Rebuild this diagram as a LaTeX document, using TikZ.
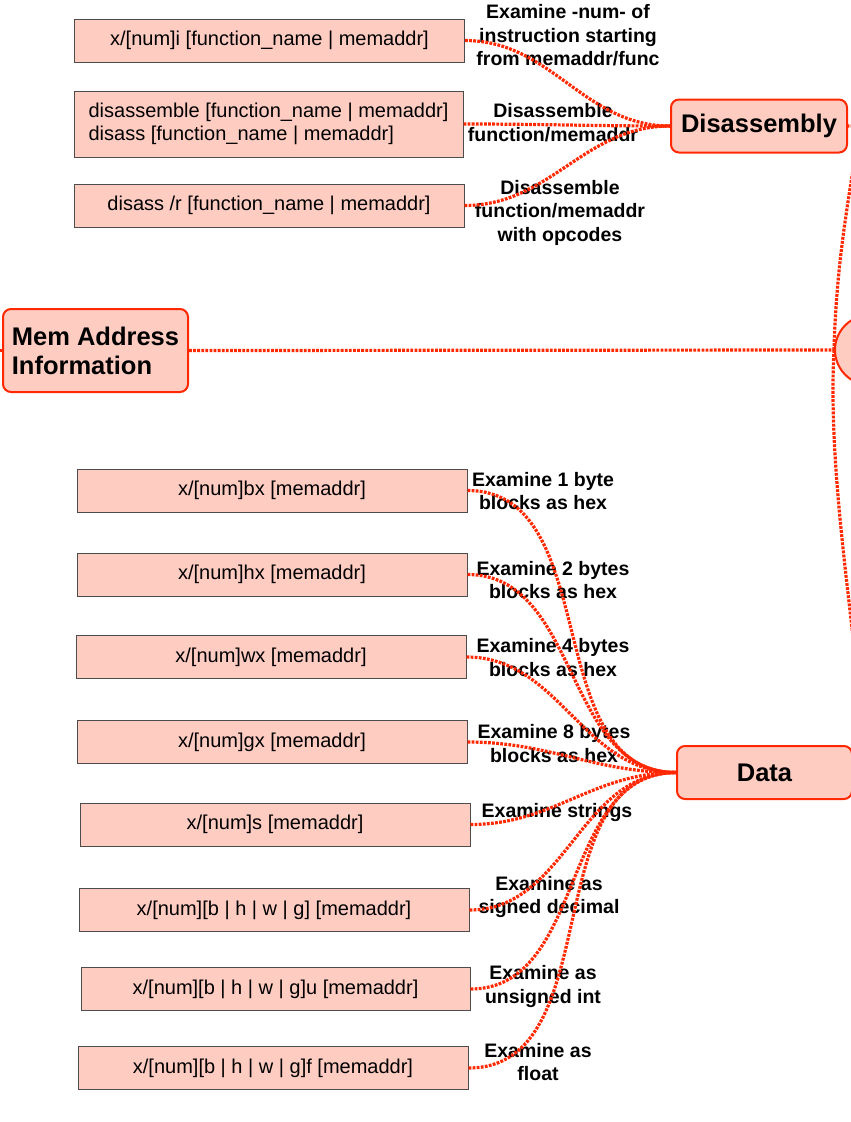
\documentclass[tikz,border=0pt]{standalone}
\usepackage{fontspec}
\setmainfont{Liberation Sans}
\definecolor{hubred}{RGB}{255,40,0}
\definecolor{pinkfill}{RGB}{255,204,194}
\begin{document}
\begin{tikzpicture}[x=1pt,y=-1pt,
 leaf/.style={draw=black!70, line width=1pt, fill=pinkfill, minimum height=43pt, inner sep=0pt, font=\fontsize{20}{23}\selectfont},
 hub/.style={draw=hubred, line width=2pt, fill=pinkfill, rounded corners=8pt, inner sep=0pt, font=\bfseries\fontsize{25.5}{29}\selectfont},
 lbl/.style={align=center, inner sep=0pt, font=\bfseries\fontsize{19.5}{23.5}\selectfont},
 conn/.style={draw=hubred, line width=3.2pt, dash pattern=on 2.8pt off 1.3pt},
]
\useasboundingbox (0,0) rectangle (851,1122);
\clip (0,0) rectangle (851,1122);
\fill[white] (0,0) rectangle (851,1122);

% hubs
\node[hub, minimum width=176pt, minimum height=53pt] (disasm) at (759,126) {Disassembly};
\node[hub, minimum width=185pt, minimum height=83pt, align=left] (mem) at (95.5,350.5) {Mem Address\\Information};
\node[hub, minimum width=175pt, minimum height=53pt] (data) at (764.5,772.5) {Data};
\node[circle, draw=hubred, fill=pinkfill, line width=2pt, minimum size=70pt] (root) at (870,350) {};

% disassembly leaves
\node[leaf, minimum width=390pt] (xi) at (269.5,40.5) {x/[num]i [function\_name | memaddr]};
\node[leaf, minimum width=389pt, minimum height=66pt, align=left] (dis) at (268.5,124) {disassemble [function\_name | memaddr]\\disass [function\_name | memaddr]};
\node[leaf, minimum width=390pt] (disr) at (269,205.5) {disass /r [function\_name | memaddr]};

% data leaves
\node[leaf, minimum width=390pt] (bx) at (272,490.5) {x/[num]bx [memaddr]};
\node[leaf, minimum width=390pt] (hx) at (272,574.5) {x/[num]hx [memaddr]};
\node[leaf, minimum width=390pt] (wx) at (271,657) {x/[num]wx [memaddr]};
\node[leaf, minimum width=390pt] (gx) at (272,742) {x/[num]gx [memaddr]};
\node[leaf, minimum width=390pt] (xs) at (275,824.5) {x/[num]s [memaddr]};
\node[leaf, minimum width=390pt] (sd) at (274,910) {x/[num][b | h | w | g] [memaddr]};
\node[leaf, minimum width=389pt] (ui) at (275.5,989) {x/[num][b | h | w | g]u [memaddr]};
\node[leaf, minimum width=390pt] (fl) at (273,1068) {x/[num][b | h | w | g]f [memaddr]};

% labels
\node[lbl] (l1) at (568,35.5) {Examine -num- of\\instruction starting\\from memaddr/func};
\node[lbl] (l2) at (553,122.5) {Disassemble\\function/memaddr};
\node[lbl] (l3) at (560,212.5) {Disassemble\\function/memaddr\\with opcodes};
\node[lbl] (l4) at (543,491) {Examine 1 byte\\blocks as hex};
\node[lbl] (l5) at (553,580) {Examine 2 bytes\\blocks as hex};
\node[lbl] (l6) at (553,657.5) {Examine 4 bytes\\blocks as hex};
\node[lbl] (l7) at (554,743.5) {Examine 8 bytes\\blocks as hex};
\node[lbl] (l8) at (557,812) {Examine strings};
\node[lbl] (l9) at (549,897) {Examine as\\signed decimal};
\node[lbl] (l10) at (543,986.5) {Examine as\\unsigned int};
\node[lbl] (l11) at (538,1062) {Examine as\\float};

\coordinate (memout) at (-20,350.5);

% connectors
\draw[conn] (xi.east) to[out=0,in=180] (disasm.west);
\draw[conn] (dis.east) to[out=0,in=180] (disasm.west);
\draw[conn] (disr.east) to[out=0,in=180] (disasm.west);
\foreach \n in {bx,hx,wx,gx,xs,sd,ui,fl}
  \draw[conn] (\n.east) to[out=0,in=180] (data.west);
\draw[conn] (mem.east) -- (root.west);
\draw[conn] (mem.west) -- (memout);
\draw[conn] (root.west) .. controls (838,200) and (872,120) .. (disasm.east);
\draw[conn] (root.west) .. controls (825,520) and (880,740) .. (data.east);
\end{tikzpicture}
\end{document}
